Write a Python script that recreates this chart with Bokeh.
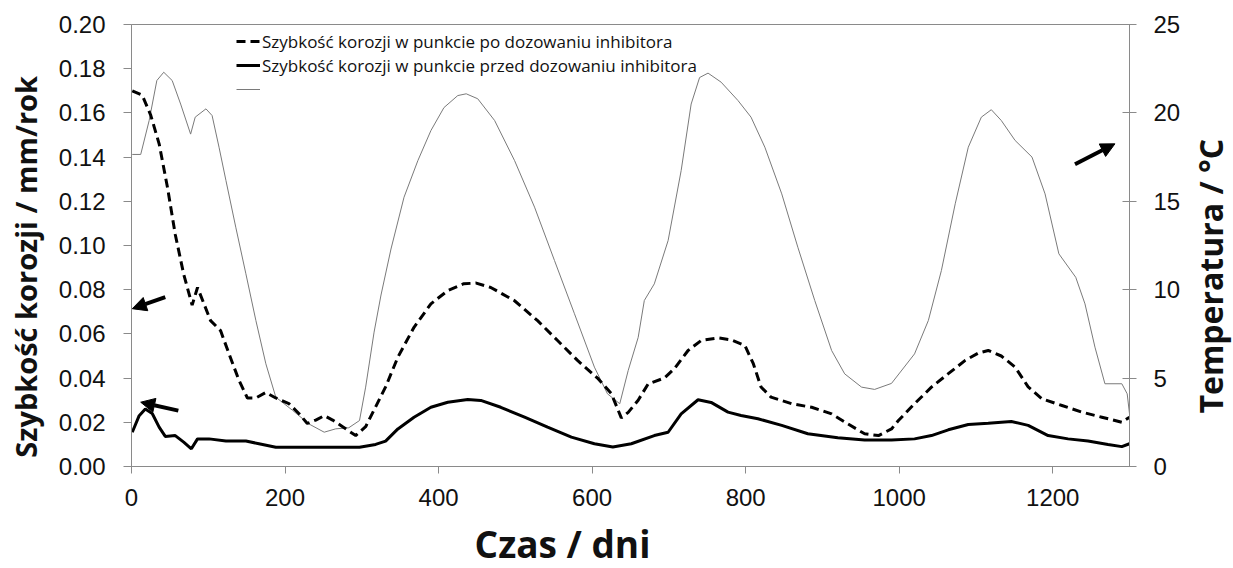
from bokeh.plotting import figure
from bokeh.layouts import row, column
from bokeh.models import (Range1d, LinearAxis, Legend, LegendItem, Arrow, NormalHead,
                          FixedTicker, NumeralTickFormatter, Label)
from bokeh.embed import file_html
from bokeh.resources import INLINE

# ---------------- data ----------------
days_after = [1, 14, 25, 36, 47, 57, 68, 79, 86, 94, 103, 116, 127, 140, 151, 162, 175, 188, 205, 218,
              229, 240, 251, 262, 275, 292, 305, 318, 331, 347, 368, 390, 412, 433, 449, 468, 499, 529,
              555, 581, 607, 625, 638, 647, 660, 673, 694, 707, 725, 742, 764, 781, 799, 810, 820, 833,
              860, 886, 912, 933, 955, 973, 990, 999, 1020, 1042, 1064, 1086, 1103, 1116, 1133, 1151,
              1168, 1186, 1212, 1238, 1264, 1290, 1300]
rate_after = [0.170, 0.168, 0.159, 0.146, 0.126, 0.105, 0.087, 0.073, 0.081, 0.074, 0.066, 0.0615,
              0.051, 0.039, 0.031, 0.031, 0.0335, 0.031, 0.0285, 0.024, 0.0195, 0.021, 0.023, 0.021,
              0.018, 0.014, 0.018, 0.027, 0.036, 0.0495, 0.063, 0.0736, 0.0796, 0.0827, 0.083, 0.081,
              0.075, 0.066, 0.057, 0.048, 0.040, 0.033, 0.022, 0.0245, 0.030, 0.0374, 0.040, 0.0442,
              0.0525, 0.057, 0.0582, 0.0573, 0.0548, 0.0465, 0.036, 0.0314, 0.0284, 0.0268, 0.0238,
              0.0193, 0.0148, 0.014, 0.017, 0.0208, 0.0284, 0.0359, 0.042, 0.048, 0.0513, 0.0525,
              0.050, 0.045, 0.036, 0.0306, 0.0276, 0.0246, 0.0223, 0.020, 0.0223]

days_before = [1, 10, 18, 27, 36, 44, 57, 68, 78, 86, 101, 123, 149, 166, 188, 231, 297, 318, 331,
               347, 368, 390, 412, 438, 455, 481, 512, 542, 573, 603, 627, 651, 681, 699, 716, 738,
               755, 777, 794, 816, 847, 881, 920, 955, 990, 1020, 1042, 1064, 1090, 1116, 1146, 1168,
               1194, 1220, 1246, 1272, 1290, 1300]
rate_before = [0.0155, 0.023, 0.026, 0.024, 0.0178, 0.0136, 0.014, 0.011, 0.008, 0.0125, 0.0125,
               0.0115, 0.0115, 0.0103, 0.0087, 0.0087, 0.0087, 0.010, 0.0115, 0.017, 0.0223, 0.0268,
               0.0291, 0.0303, 0.0299, 0.0268, 0.0223, 0.0178, 0.0133, 0.0103, 0.0088, 0.0103, 0.014,
               0.0155, 0.0238, 0.0302, 0.029, 0.0246, 0.0231, 0.0216, 0.0186, 0.0148, 0.013, 0.012,
               0.012, 0.0125, 0.014, 0.0166, 0.019, 0.0196, 0.0204, 0.0186, 0.014, 0.0125, 0.0115,
               0.010, 0.009, 0.0103]

days_temp = [1, 12, 23, 33, 42, 53, 64, 77, 83, 97, 105, 114, 123, 136, 149, 162, 175, 188, 210, 231,
             251, 266, 283, 297, 305, 316, 325, 338, 355, 373, 390, 407, 425, 436, 451, 473, 499, 525,
             551, 577, 603, 620, 636, 647, 660, 668, 681, 699, 716, 729, 740, 751, 768, 790, 807, 825,
             847, 868, 890, 912, 929, 951, 968, 990, 1020, 1038, 1055, 1073, 1090, 1107, 1120, 1133,
             1151, 1173, 1190, 1208, 1230, 1242, 1255, 1268, 1290, 1297, 1300]
temperature = [17.65, 17.65, 19.57, 21.83, 22.3, 21.83, 20.5, 18.8, 19.76, 20.23, 19.85, 18.06, 16.18,
               13.5, 10.9, 8.26, 5.81, 3.92, 3.17, 2.41, 1.94, 2.13, 2.19, 2.6, 4.49, 7.6, 9.7, 12.3,
               15.23, 17.3, 19.0, 20.3, 20.98, 21.08, 20.8, 19.57, 17.3, 14.67, 11.65, 8.64, 5.62,
               4.11, 3.55, 5.43, 7.3, 9.39, 10.33, 12.78, 16.74, 20.5, 22.0, 22.25, 21.74, 20.7, 19.76,
               18.06, 15.42, 12.4, 9.39, 6.56, 5.24, 4.49, 4.36, 4.7, 6.37, 8.26, 11.09, 14.86, 18.06,
               19.76, 20.18, 19.57, 18.44, 17.5, 15.42, 12.03, 10.7, 9.2, 6.75, 4.68, 4.68, 4.11, 2.98]

x_ticks = [0, 200, 400, 600, 800, 1000, 1200]
rate_ticks = [0.00, 0.02, 0.04, 0.06, 0.08, 0.10, 0.12, 0.14, 0.16, 0.18, 0.20]
temp_ticks = [0, 5, 10, 15, 20, 25]

label_after = "Szybkość korozji w punkcie po dozowaniu inhibitora"
label_before = "Szybkość korozji w punkcie przed dozowaniu inhibitora"
x_title = "Czas / dni"
y_title = "Szybkość korozji / mm/rok"
y2_title = "Temperatura / °C"

# annotation arrows: (x_start, y_start, x_end, y_end, range)
arrows = [(44, 0.0766, 1, 0.0714, "default"),
          (61, 0.0253, 12, 0.0291, "default"),
          (1229, 17.1, 1281, 18.25, "temp")]

# ---------------- layout sizes (px) ----------------
TOTAL_W, TOTAL_H = 1233, 568
SIDE_L, SIDE_R, BOTTOM_H = 50, 50, 50
MAIN_W = TOTAL_W - SIDE_L - SIDE_R
MAIN_H = TOTAL_H - BOTTOM_H

AX = "#8a8a8a"
TITLE_FONT = "Open Sans"
TICK_FONT = "Liberation Sans"
INK = "#111111"

p = figure(width=MAIN_W, height=MAIN_H, output_backend="svg", toolbar_location=None,
           x_range=Range1d(0, 1300), y_range=Range1d(0, 0.2),
           min_border_left=81, min_border_right=53, min_border_top=24, min_border_bottom=52)
p.extra_y_ranges = {"temp": Range1d(0, 25)}
p.xgrid.visible = False
p.ygrid.visible = False
p.outline_line_color = AX
p.outline_line_width = 1
p.background_fill_color = "white"
p.border_fill_color = "white"

r_temp = p.line(days_temp, temperature, y_range_name="temp", line_color="#7a7a7a", line_width=1)
r_after = p.line(days_after, rate_after, line_color="black", line_width=3, line_dash="9 5")
r_before = p.line(days_before, rate_before, line_color="black", line_width=3)

right = LinearAxis(y_range_name="temp")
p.add_layout(right, "right")

xa = p.xaxis[0]
xa.ticker = FixedTicker(ticks=x_ticks)
xa.major_tick_out = 7
xa.major_tick_in = 0
xa.major_label_standoff = 15

ya = p.yaxis[0]
ya.ticker = FixedTicker(ticks=rate_ticks)
ya.formatter = NumeralTickFormatter(format="0.00")
ya.major_tick_out = 8
ya.major_tick_in = 0
ya.major_label_standoff = 18

right.ticker = FixedTicker(ticks=temp_ticks)
right.major_tick_out = 7
right.major_tick_in = 7
right.major_label_standoff = 17

for ax in (xa, ya, right):
    ax.axis_line_color = AX
    ax.major_tick_line_color = AX
    ax.minor_tick_line_color = None
    ax.major_label_text_font = TICK_FONT
    ax.major_label_text_font_size = "24px"
    ax.major_label_text_color = INK

legend = Legend(items=[LegendItem(label=label_after, renderers=[r_after]),
                       LegendItem(label=label_before, renderers=[r_before]),
                       LegendItem(label=" ", renderers=[r_temp])],
                location=(98, 358), orientation="vertical",
                background_fill_alpha=0, border_line_alpha=0,
                label_text_font="Open Sans", label_text_font_size="17px",
                label_text_color=INK,
                glyph_width=24, glyph_height=24, label_height=24, label_standoff=2,
                spacing=0, padding=7, margin=0)
p.add_layout(legend)

for xs, ys, xe, ye, rng in arrows:
    p.add_layout(Arrow(end=NormalHead(size=14, fill_color="black", line_color="black"),
                       x_start=xs, y_start=ys, x_end=xe, y_end=ye, y_range_name=rng,
                       line_color="black", line_width=4))


def title_panel(w, h, text, x, y, angle, size):
    f = figure(width=w, height=h, output_backend="svg", toolbar_location=None,
               x_range=Range1d(0, w), y_range=Range1d(0, h),
               x_axis_location=None, y_axis_location=None, min_border=0)
    f.outline_line_color = None
    f.background_fill_color = "white"
    f.border_fill_color = "white"
    f.grid.visible = False
    f.add_layout(Label(x=x, y=y, text=text, angle=angle, angle_units="deg",
                       text_font=TITLE_FONT, text_font_style="bold", text_font_size=size,
                       text_color=INK, text_align="center", text_baseline="middle"))
    return f


left_panel = title_panel(SIDE_L, MAIN_H, y_title, 25, 234, 90, "29px")
right_panel = title_panel(SIDE_R, MAIN_H, y2_title, 27, 223, 90, "32px")
bottom_panel = title_panel(TOTAL_W, BOTTOM_H, x_title, 562, 25, 0, "37px")

layout = column(row(left_panel, p, right_panel, spacing=0), bottom_panel, spacing=0)

open("out.html", "w").write(file_html(layout, INLINE))
